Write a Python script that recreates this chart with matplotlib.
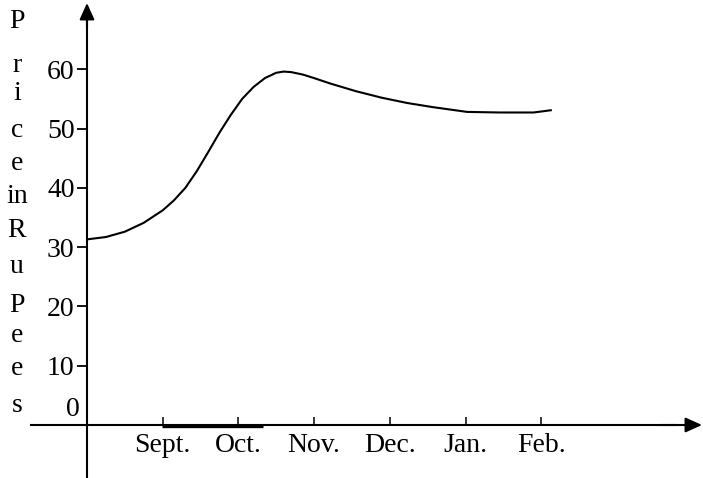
import matplotlib.pyplot as plt

#
# Datos (meses en el eje x, precio en rupias)
#
months = ["Sept.", "Oct.", "Nov.", "Dec.", "Jan.", "Feb."]
month_pos = [1, 2, 3, 4, 5, 6]
price_ticks = [10, 20, 30, 40, 50, 60]

curve_x = [0.0, 0.25, 0.5, 0.75, 1.0, 1.15, 1.3, 1.45, 1.6, 1.75, 1.9,
           2.05, 2.2, 2.35, 2.5, 2.6, 2.7, 2.85, 3.0, 3.21, 3.55, 3.89,
           4.23, 4.57, 5.02, 5.45, 5.90, 6.14]
curve_y = [31.3, 31.7, 32.6, 34.1, 36.2, 37.9, 40.0, 42.8, 46.0, 49.3, 52.3,
           55.0, 57.0, 58.5, 59.4, 59.6, 59.5, 59.1, 58.5, 57.6, 56.3, 55.2,
           54.3, 53.6, 52.8, 52.7, 52.7, 53.1]

ylabel_letters = ["P", "r", "i", "c", "e", "in", "R", "u", "P", "e", "e", "s"]
ylabel_base = [28, 72, 100, 137, 170, 203, 237, 273, 312, 342, 375, 412]

W, H = 703, 478
plt.rcParams["font.family"] = ["Liberation Serif", "DejaVu Serif"]
fs = 20

fig = plt.figure(figsize=(W / 100, H / 100), dpi=100)
ax = fig.add_axes([0, 0, 1, 1])

# escala: 75.7 px por mes, 5.93 px por rupia, origen en (87, 425)
ax.set_xlim(-87 / 75.7, (W - 87) / 75.7)
ax.set_ylim(-(H - 425) / 5.93, 425 / 5.93)

ax.plot(curve_x, curve_y, color="black", lw=1.5, solid_capstyle="butt",
        solid_joinstyle="round")

# ejes
for s in ["top", "right"]:
    ax.spines[s].set_visible(False)
ax.spines["left"].set_position(("data", 0))
ax.spines["bottom"].set_position(("data", 0))
ax.spines["left"].set_bounds(-8.8, 69.0)
ax.spines["bottom"].set_bounds(-0.74, 7.8)
ax.spines["left"].set_linewidth(1.5)
ax.spines["bottom"].set_linewidth(1.5)

arrow = dict(arrowstyle="-|>,head_length=1.0,head_width=0.45",
             color="black", lw=1.5, shrinkA=0, shrinkB=0)
ax.annotate("", xy=((W - 1 - 87) / 75.7, 0), xytext=(7.6, 0), arrowprops=arrow)
ax.annotate("", xy=(0, (425 - 3) / 5.93), xytext=(0, 67), arrowprops=arrow)

# trazo grueso sobre el eje x
ax.plot([0.99, 2.32], [-0.15, -0.15], color="black", lw=2.4, solid_capstyle="butt")

ax.set_yticks(price_ticks)
ax.set_yticklabels([str(v) for v in price_ticks], fontsize=fs)
ax.tick_params(axis="y", direction="out", length=7, width=1.3, pad=2)

ax.set_xticks(month_pos)
ax.set_xticklabels(months, fontsize=fs)
ax.tick_params(axis="x", direction="in", length=6, width=1.1, pad=6)

ax.text(-0.1, 1.6, "0", fontsize=fs, ha="right", va="baseline")

for letter, yb in zip(ylabel_letters, ylabel_base):
    fig.text(17 / W, 1 - yb / H, letter, fontsize=fs, ha="center", va="baseline")

fig.savefig("out.png", dpi=100)
